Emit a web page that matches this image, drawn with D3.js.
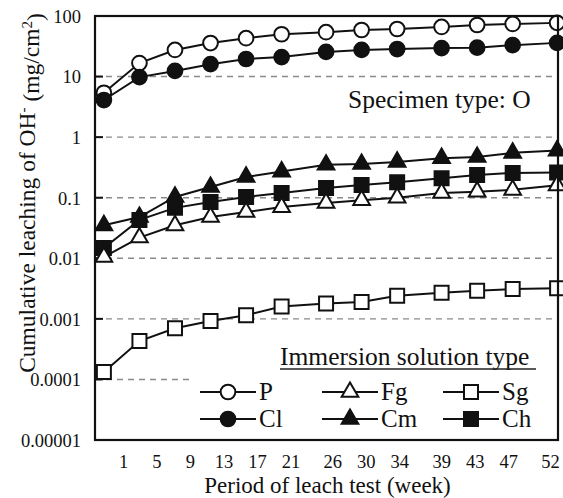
<!DOCTYPE html>
<html><head><meta charset="utf-8">
<script src="https://cdn.jsdelivr.net/npm/d3@7"></script>
<style>body{margin:0;background:#fff}svg{display:block}</style>
</head><body>
<script>
const weeks = [1,5,9,13,17,21,26,30,34,39,43,47,52];
const tickLabels = ["1","5","9","13","17","21","26","30","34","39","43","47","52"];
const yTickValues = [100,10,1,0.1,0.01,0.001,0.0001,0.00001];
const yTickLabels = ["100","10","1","0.1","0.01","0.001","0.0001","0.00001"];
const P  = [5.4,16.7,27.5,35.8,43,50,54,58.7,61,66,71,74,77];
const Cl = [4.1,9.8,12.4,16,19.5,21,25.5,27.5,28.5,29.5,30,33,36];
const Sg = [0.000133,0.00043,0.0007,0.00092,0.00115,0.0016,0.0018,0.0019,0.0024,0.0027,0.0029,0.0031,0.0032];
const Cm = [0.035,0.048,0.103,0.15,0.22,0.27,0.35,0.36,0.39,0.45,0.47,0.55,0.6];
const Ch = [0.0148,0.043,0.068,0.085,0.103,0.12,0.145,0.162,0.18,0.21,0.237,0.257,0.26];
const Fg = [0.0105,0.022,0.035,0.048,0.058,0.07,0.082,0.091,0.10,0.12,0.126,0.135,0.16];

const series = [
  {name:"P", values:P, shape:"circle", fill:"#fff"},
  {name:"Cl", values:Cl, shape:"circle", fill:"#111"},
  {name:"Sg", values:Sg, shape:"square", fill:"#fff"},
  {name:"Cm", values:Cm, shape:"triangle", fill:"#111"},
  {name:"Ch", values:Ch, shape:"square", fill:"#111"},
  {name:"Fg", values:Fg, shape:"triangle", fill:"#fff"}
];
const legendOrder = [["P","Fg","Sg"],["Cl","Cm","Ch"]];

const FONT = "'Times New Roman', Times, 'Liberation Serif', 'DejaVu Serif', 'Noto Serif', serif";
const W = 563, H = 498;
const L = 95, R = 558, T = 16, B = 440;
const svg = d3.select("body").append("svg").attr("width", W).attr("height", H)
  .style("font-family", FONT);

const x = d3.scaleLinear().domain([0, 52.1]).range([L, R]);
const xLab = d3.scaleLinear().domain([1, 52]).range([123, 550]);
const y = d3.scaleLog().domain([1e-5, 100]).range([B, T]);

const symArea = {circle: 170, square: 196, triangle: 120};
const symType = {circle: d3.symbolCircle, square: d3.symbolSquare, triangle: d3.symbolTriangle};
function sym(shape){ return d3.symbol().type(symType[shape]).size(symArea[shape])(); }
function txt(sel, size){ return sel.attr("font-family", FONT).style("font-family", FONT).style("font-size", size + "px").attr("fill", "#111"); }

// gridlines
svg.append("g").selectAll("line").data(yTickValues.filter(v => v < 100 && v > 1e-5)).join("line")
  .attr("x1", L).attr("x2", R).attr("y1", d => y(d)).attr("y2", d => y(d))
  .attr("stroke", "#8a8a8a").attr("stroke-width", 1.4).attr("stroke-dasharray", "6,5");

// y axis ticks + labels
const yAxis = d3.axisLeft(y).tickValues(yTickValues).tickSize(0)
  .tickFormat((d, i) => yTickLabels[i]).tickPadding(0);
const yg = svg.append("g").attr("transform", `translate(${L - 14},0)`).call(yAxis);
yg.attr("font-family", FONT);
yg.select(".domain").remove();
txt(yg.selectAll("text"), 18.5).attr("dy", "0.34em");
svg.append("g").selectAll("line").data(yTickValues).join("line")
  .attr("x1", L).attr("x2", L + 8).attr("y1", d => y(d)).attr("y2", d => y(d))
  .attr("stroke", "#111").attr("stroke-width", 2);

// x tick labels
const xAxis = d3.axisBottom(xLab).tickValues(weeks).tickSize(0)
  .tickFormat((d, i) => tickLabels[i]).tickPadding(0);
const xg = svg.append("g").attr("transform", `translate(0,${B + 10})`).call(xAxis);
xg.attr("font-family", FONT);
xg.select(".domain").remove();
txt(xg.selectAll("text"), 18.5).attr("dy", "0.95em");

// axis titles
txt(svg.append("text"), 23).attr("x", (L + R) / 2 + 1).attr("y", 493).attr("text-anchor", "middle")
  .text("Period of leach test (week)");
const yt = txt(svg.append("text"), 23.5).attr("transform", "translate(35,193) rotate(-90)")
  .attr("text-anchor", "middle");
yt.append("tspan").text("Cumulative leaching of OH");
yt.append("tspan").attr("dy", "-0.45em").style("font-size", "15px").text("-");
yt.append("tspan").attr("dy", "0.45em").text(" (mg/cm");
yt.append("tspan").attr("dy", "-0.45em").style("font-size", "15px").text("2");
yt.append("tspan").attr("dy", "0.45em").text(")");

// specimen text
txt(svg.append("text"), 25.5).attr("x", 348).attr("y", 108).text("Specimen type: O");

// legend background
svg.append("rect").attr("x", 190).attr("y", 342).attr("width", R - 190 - 1).attr("height", B - 342 - 1).attr("fill", "#fff");

// series
const line = d3.line().x((d, i) => x(weeks[i])).y(d => y(d));
series.forEach(s => {
  const g = svg.append("g");
  g.append("path").datum(s.values).attr("d", line).attr("fill", "none")
    .attr("stroke", "#111").attr("stroke-width", 2);
  g.selectAll("path.m").data(s.values).join("path").attr("class", "m")
    .attr("transform", (d, i) => `translate(${x(weeks[i])},${y(d)})`)
    .attr("d", sym(s.shape)).attr("fill", s.fill).attr("stroke", "#111").attr("stroke-width", 2);
});

// frame
svg.append("rect").attr("x", L).attr("y", T).attr("width", R - L).attr("height", B - T)
  .attr("fill", "none").attr("stroke", "#111").attr("stroke-width", 2.2);

// legend
txt(svg.append("text"), 25.5).attr("x", 280).attr("y", 365).text("Immersion solution type");
svg.append("line").attr("x1", 280).attr("x2", 536).attr("y1", 369).attr("y2", 369).attr("stroke", "#222").attr("stroke-width", 1.6);
const colX = [200, 322, 443];
const rowY = [392, 419];
legendOrder.forEach((row, ri) => row.forEach((name, ci) => {
  const s = series.find(d => d.name === name);
  const x0 = colX[ci], yy = rowY[ri];
  svg.append("line").attr("x1", x0).attr("x2", x0 + 56).attr("y1", yy).attr("y2", yy)
    .attr("stroke", "#111").attr("stroke-width", 2);
  svg.append("path").attr("transform", `translate(${x0 + 28},${yy})`).attr("d", sym(s.shape))
    .attr("fill", s.fill).attr("stroke", "#111").attr("stroke-width", 2);
  txt(svg.append("text"), 25).attr("x", x0 + 59).attr("y", yy + 8).text(name);
}));
</script>
</body></html>
